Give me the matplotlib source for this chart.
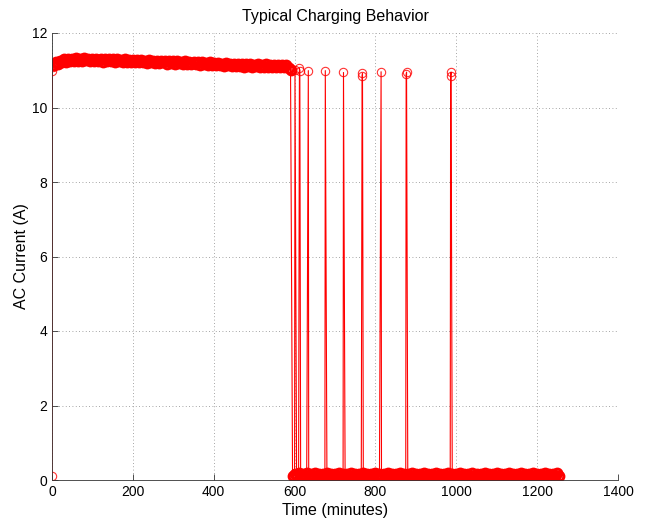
import numpy as np
import matplotlib.pyplot as plt

plt.rcParams['font.family'] = ['Liberation Sans', 'DejaVu Sans']

# Charging phase: first samples, then logger readings every 5 minutes (A)
start_time = [0, 1, 2]
start_amps = [0.10, 10.98, 11.08]

charge_time = np.arange(5, 595, 5)
charge_amps = [
    11.13, 11.21, 11.18, 11.26, 11.22, 11.29, 11.23, 11.31, 11.24, 11.30,
    11.25, 11.32, 11.26, 11.30, 11.24, 11.32, 11.27, 11.31, 11.25, 11.30,
    11.24, 11.31, 11.26, 11.29, 11.23, 11.31, 11.25, 11.30, 11.24, 11.29,
    11.23, 11.29, 11.24, 11.28, 11.22, 11.29, 11.23, 11.28, 11.21, 11.27,
    11.22, 11.28, 11.21, 11.27, 11.22, 11.26, 11.20, 11.27, 11.21, 11.26,
    11.20, 11.26, 11.19, 11.25, 11.21, 11.24, 11.18, 11.26, 11.19, 11.24,
    11.18, 11.24, 11.19, 11.23, 11.17, 11.24, 11.18, 11.22, 11.16, 11.23,
    11.17, 11.22, 11.15, 11.21, 11.16, 11.20, 11.14, 11.21, 11.15, 11.19,
    11.14, 11.19, 11.13, 11.18, 11.12, 11.19, 11.13, 11.17, 11.12, 11.18,
    11.11, 11.17, 11.12, 11.16, 11.10, 11.17, 11.11, 11.16, 11.10, 11.15,
    11.11, 11.16, 11.09, 11.15, 11.10, 11.16, 11.09, 11.15, 11.10, 11.14,
    11.09, 11.15, 11.10, 11.14, 11.08, 11.13, 11.05, 11.02,
]

# Idle phase after the battery is full (A)
idle_time = np.arange(595, 1260, 5)
idle_amps = [
    0.11, 0.17, 0.12, 0.18, 0.11, 0.16, 0.12, 0.18, 0.11, 0.17,
    0.12, 0.18, 0.11, 0.16, 0.12, 0.17, 0.11, 0.18, 0.12, 0.16,
    0.11, 0.17, 0.12, 0.18, 0.11, 0.16, 0.12, 0.17, 0.11, 0.18,
    0.12, 0.16, 0.11, 0.17, 0.12, 0.18, 0.11, 0.16, 0.12, 0.17,
    0.11, 0.18, 0.12, 0.16, 0.11, 0.17, 0.12, 0.18, 0.11, 0.16,
    0.12, 0.17, 0.11, 0.18, 0.12, 0.16, 0.11, 0.17, 0.12, 0.18,
    0.11, 0.16, 0.12, 0.17, 0.11, 0.18, 0.12, 0.16, 0.11, 0.17,
    0.12, 0.18, 0.11, 0.16, 0.12, 0.17, 0.11, 0.18, 0.12, 0.16,
    0.11, 0.17, 0.12, 0.18, 0.11, 0.16, 0.12, 0.17, 0.11, 0.18,
    0.12, 0.16, 0.11, 0.17, 0.12, 0.18, 0.11, 0.16, 0.12, 0.17,
    0.11, 0.18, 0.12, 0.16, 0.11, 0.17, 0.12, 0.18, 0.11, 0.16,
    0.12, 0.17, 0.11, 0.18, 0.12, 0.16, 0.11, 0.17, 0.12, 0.18,
    0.11, 0.16, 0.12, 0.17, 0.11, 0.18, 0.12, 0.16, 0.11, 0.17,
    0.12, 0.18, 0.11,
]

# Short top-up pulses during the idle phase
spike_time = [601, 612, 613, 634, 676, 721, 767, 768, 814, 876, 877, 986, 987]
spike_amps = [11.00, 11.05, 10.99, 10.99, 10.99, 10.94, 10.85, 10.92, 10.96,
              10.90, 10.95, 10.85, 10.95]

t = np.concatenate([start_time, charge_time, idle_time, spike_time])
a = np.concatenate([start_amps, charge_amps, idle_amps, spike_amps])
order = np.argsort(t, kind='stable')
t, a = t[order], a[order]

fig = plt.figure(figsize=(6.45, 5.21), dpi=100)
ax = fig.add_axes([52 / 645, 41 / 521, 566 / 645, 447 / 521])

# trace through every sample
ax.plot(t, a, '-', color='red', lw=0.8)
# dense readings: overlapping circles build the thick band
dense_t = np.concatenate([charge_time, idle_time])
dense_a = np.concatenate([charge_amps, idle_amps])
ax.plot(dense_t, dense_a, 'o', color='red', markersize=6.3,
        markerfacecolor='none', markeredgewidth=2.2)
# isolated readings keep thin circles
ax.plot(start_time + spike_time, start_amps + spike_amps, 'o', color='red',
        markersize=6, markerfacecolor='none', markeredgewidth=0.8, alpha=0.8)

ax.set_xlim(0, 1400)
ax.set_ylim(0, 12)
ax.set_xticks(range(0, 1401, 200))
ax.set_yticks(range(0, 13, 2))
ax.grid(True, linestyle=(0, (1, 3)), color='#888888', linewidth=0.6)

ax.spines['top'].set_visible(False)
ax.spines['right'].set_visible(False)
for s in ('left', 'bottom'):
    ax.spines[s].set_color('#333333')
    ax.spines[s].set_linewidth(0.6)
ax.tick_params(direction='in', length=4, width=0.6, labelsize=10, colors='#333333',
               labelcolor='black')

ax.set_title('Typical Charging Behavior', fontsize=11.5, pad=9)
ax.set_xlabel('Time (minutes)', fontsize=11.5, labelpad=3)
ax.set_ylabel('AC Current (A)', fontsize=11.5, labelpad=2)

fig.savefig('out.png', dpi=100)
